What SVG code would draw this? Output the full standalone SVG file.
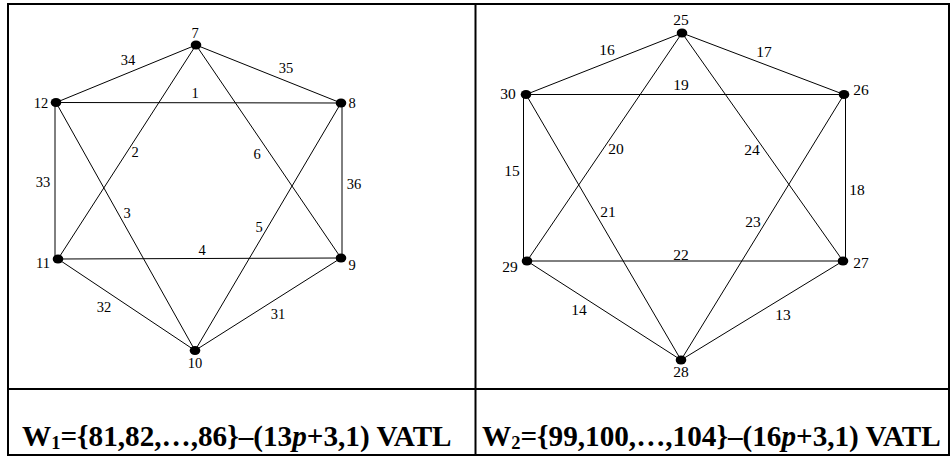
<svg xmlns="http://www.w3.org/2000/svg" width="950" height="457" viewBox="0 0 950 457">
<style>
.e{stroke:#000;stroke-width:1;fill:none}
.n{fill:#000}
text{font-family:'Liberation Serif','Times New Roman',Tinos,'DejaVu Serif','Noto Serif',serif}
.l{font-size:14.5px;fill:#000;text-anchor:middle}
.r{font-size:15.5px;fill:#000;text-anchor:middle}
.cap{font-size:29.2px;font-weight:bold;fill:#000}
.sub{font-size:18.5px}
.frame{stroke:#000;stroke-width:2;fill:none}
</style>
<rect width="950" height="457" fill="#fff"/>
<g id="table">
<rect class="frame" x="8" y="4" width="941" height="451"/>
<line class="frame" x1="475.5" y1="4" x2="475.5" y2="455"/>
<line class="frame" x1="8" y1="389" x2="949" y2="389"/>
</g>
<g id="connectors">
<line class="e" x1="56" y1="102.5" x2="196" y2="45"/>
<line class="e" x1="196" y1="45" x2="341" y2="103"/>
<line class="e" x1="56" y1="102.5" x2="341" y2="103"/>
<line class="e" x1="196" y1="45" x2="58" y2="259"/>
<line class="e" x1="56" y1="102.5" x2="195" y2="350.5"/>
<line class="e" x1="58" y1="259" x2="341" y2="258"/>
<line class="e" x1="195" y1="350.5" x2="341" y2="103"/>
<line class="e" x1="196" y1="45" x2="341" y2="258"/>
<line class="e" x1="55" y1="102.5" x2="55" y2="259"/>
<line class="e" x1="342" y1="103" x2="342" y2="258"/>
<line class="e" x1="58" y1="259" x2="195" y2="350.5"/>
<line class="e" x1="195" y1="350.5" x2="341" y2="258"/>
<line class="e" x1="526" y1="94.5" x2="682" y2="33"/>
<line class="e" x1="682" y1="33" x2="844" y2="94.5"/>
<line class="e" x1="526" y1="94.5" x2="844" y2="94.5"/>
<line class="e" x1="682" y1="33" x2="527" y2="261"/>
<line class="e" x1="682" y1="33" x2="843" y2="261"/>
<line class="e" x1="523.5" y1="94.5" x2="523.5" y2="261"/>
<line class="e" x1="845.5" y1="94.5" x2="845.5" y2="261"/>
<line class="e" x1="526" y1="94.5" x2="681" y2="360"/>
<line class="e" x1="844" y1="94.5" x2="681" y2="360"/>
<line class="e" x1="527" y1="261" x2="843" y2="261"/>
<line class="e" x1="527" y1="261" x2="681" y2="360"/>
<line class="e" x1="843" y1="261" x2="681" y2="360"/>
</g>
<g id="edge-labels">
<text class="l" x="128" y="65">34</text>
<text class="l" x="286" y="73">35</text>
<text class="l" x="195" y="98">1</text>
<text class="l" x="135" y="157">2</text>
<text class="l" x="257" y="159">6</text>
<text class="l" x="43" y="187">33</text>
<text class="l" x="354" y="189">36</text>
<text class="l" x="127" y="218">3</text>
<text class="l" x="259" y="232">5</text>
<text class="l" x="202" y="255">4</text>
<text class="l" x="104" y="312">32</text>
<text class="l" x="278" y="319">31</text>
<text class="r" x="607" y="55">16</text>
<text class="r" x="764" y="57">17</text>
<text class="r" x="681" y="90">19</text>
<text class="r" x="616" y="154">20</text>
<text class="r" x="752" y="155">24</text>
<text class="r" x="512" y="176">15</text>
<text class="r" x="857" y="195">18</text>
<text class="r" x="608" y="217">21</text>
<text class="r" x="753" y="227">23</text>
<text class="r" x="681" y="260">22</text>
<text class="r" x="579" y="315">14</text>
<text class="r" x="783" y="320">13</text>
</g>
<g id="n7"><ellipse class="n" cx="196" cy="45" rx="5.3" ry="4.5"/><text class="l" x="195" y="38">7</text></g>
<g id="n12"><ellipse class="n" cx="56" cy="102.5" rx="5.3" ry="4.5"/><text class="l" x="41" y="108">12</text></g>
<g id="n8"><ellipse class="n" cx="341" cy="103" rx="5.3" ry="4.5"/><text class="l" x="352" y="108">8</text></g>
<g id="n11"><ellipse class="n" cx="58" cy="259" rx="5.3" ry="4.5"/><text class="l" x="43" y="268">11</text></g>
<g id="n9"><ellipse class="n" cx="341" cy="258" rx="5.3" ry="4.5"/><text class="l" x="352" y="270">9</text></g>
<g id="n10"><ellipse class="n" cx="195" cy="350.5" rx="5.3" ry="4.5"/><text class="l" x="195" y="367.5">10</text></g>
<g id="n25"><ellipse class="n" cx="682" cy="33" rx="5.3" ry="4.5"/><text class="r" x="681" y="25">25</text></g>
<g id="n30"><ellipse class="n" cx="526" cy="94.5" rx="5.3" ry="4.5"/><text class="r" x="508" y="99">30</text></g>
<g id="n26"><ellipse class="n" cx="844" cy="94.5" rx="5.3" ry="4.5"/><text class="r" x="861" y="95">26</text></g>
<g id="n29"><ellipse class="n" cx="527" cy="261" rx="5.3" ry="4.5"/><text class="r" x="510" y="272">29</text></g>
<g id="n27"><ellipse class="n" cx="843" cy="261" rx="5.3" ry="4.5"/><text class="r" x="861" y="268">27</text></g>
<g id="n28"><ellipse class="n" cx="681" cy="360" rx="5.3" ry="4.5"/><text class="r" x="681" y="377">28</text></g>
<g id="captions">
<text class="cap" x="22" y="446">W<tspan class="sub" dy="3">1</tspan><tspan dy="-3">={81,82,…,86}–(13</tspan><tspan font-style="italic">p</tspan>+3,1) VATL</text>
<text class="cap" x="482" y="446">W<tspan class="sub" dy="3">2</tspan><tspan dy="-3">={99,100,…,104}–(16</tspan><tspan font-style="italic">p</tspan>+3,1) VATL</text>
</g>
</svg>
